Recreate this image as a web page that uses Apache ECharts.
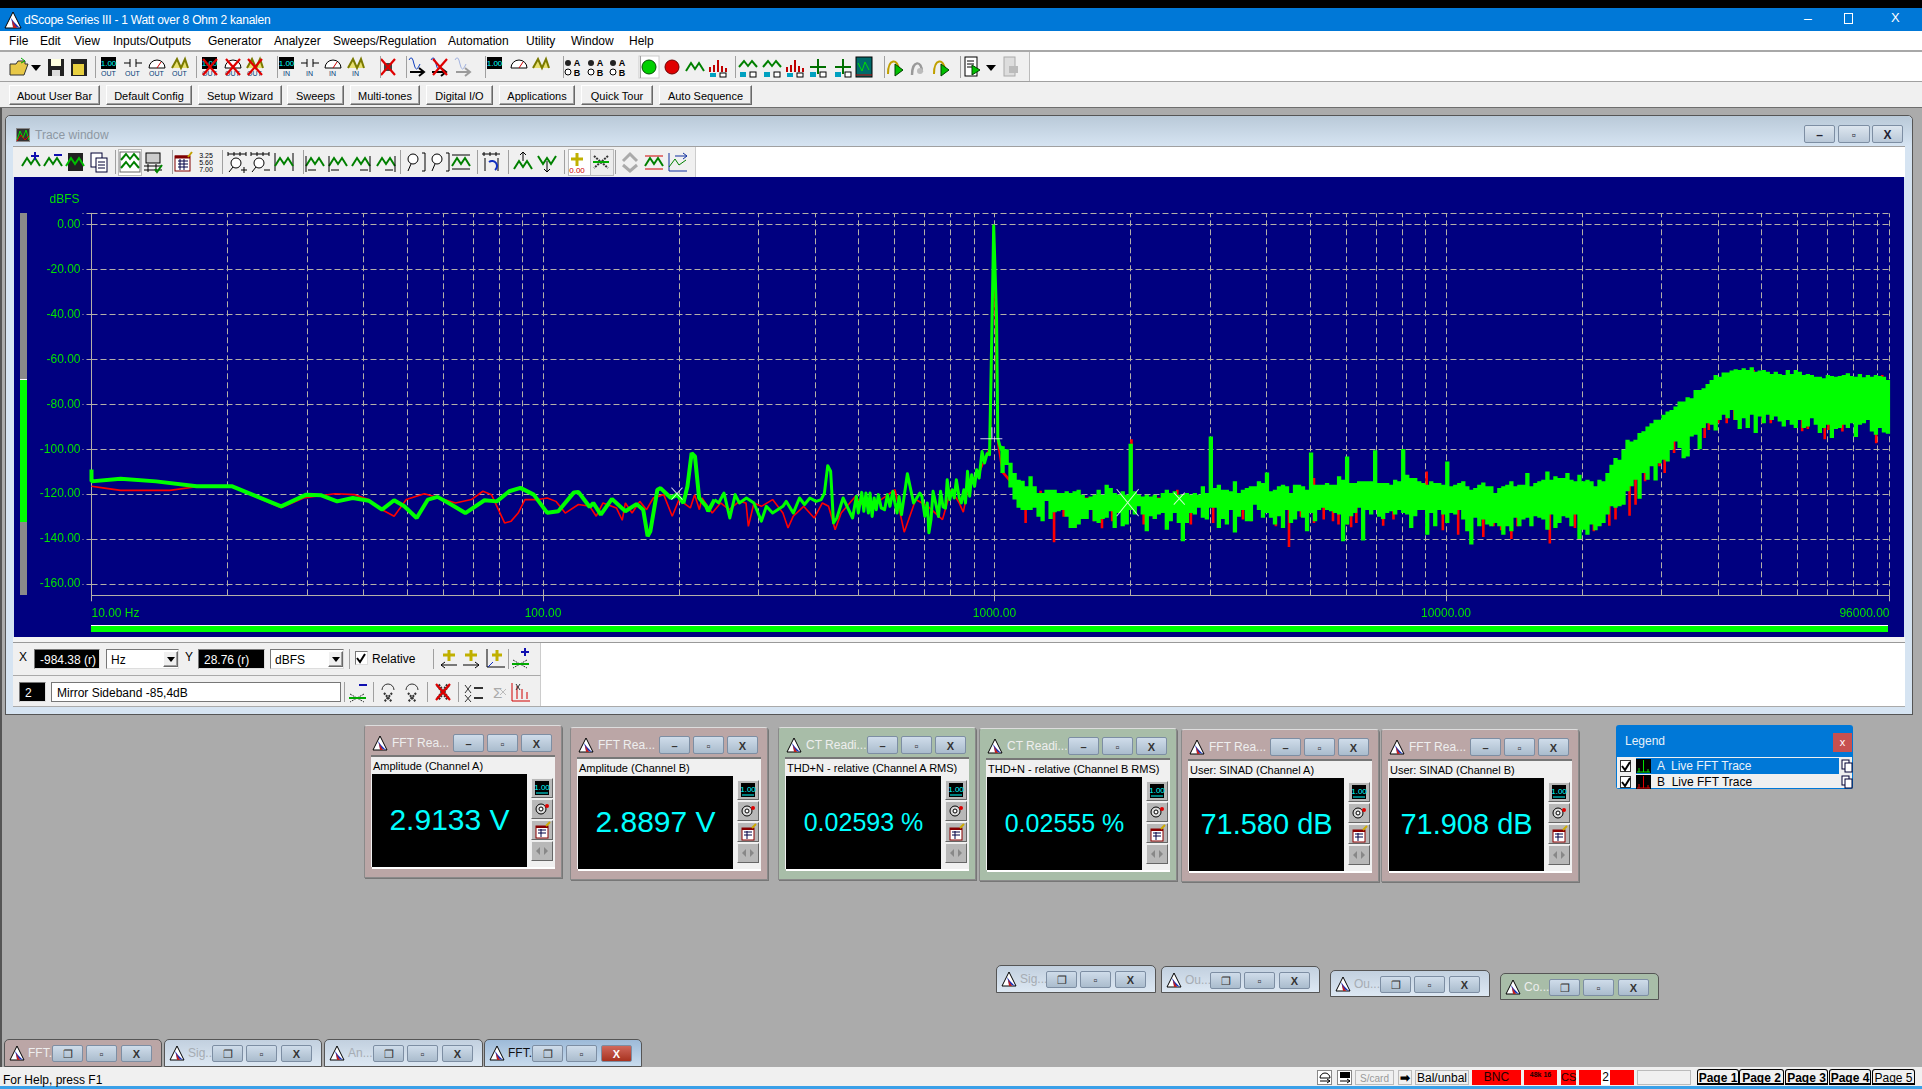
<!DOCTYPE html>
<html><head><meta charset="utf-8"><title>dScope Series III</title>
<script src="https://cdn.jsdelivr.net/npm/echarts@6/dist/echarts.min.js"></script>
<style>
html{background:#ababab}
html,body{margin:0;padding:0;overflow:hidden;width:1922px;height:1089px;font-family:"Liberation Sans",Arial,sans-serif;font-size:12px;color:#000}
.b{position:absolute;box-sizing:border-box;white-space:pre}
#chart{position:absolute;left:14px;top:177px;width:1890px;height:460px;z-index:2}
svg{position:absolute;overflow:visible}
</style></head><body>
<div id="chart"></div>
<script>
// ---------- chart data ----------
const yMajor=[0,-20,-40,-60,-80,-100,-120,-140,-160];
const xMajor=[10,100,1000,10000,96000];
const xGrid=[10,20,30,40,50,60,70,80,90,100,200,300,400,500,600,700,800,900,1000,2000,3000,4000,5000,6000,7000,8000,9000,10000,20000,30000,40000,50000,60000,70000,80000,90000,96000];
const xTickText={10:"10.00 Hz",100:"100.00",1000:"1000.00",10000:"10000.00",96000:"96000.00"};
// channel A, low frequencies
const greenLow=[[10,-109],[10,-114.3],[11.6,-113.1],[13.9,-114.3],[17.1,-116.5],[20.5,-116.5],[26.3,-125.4],[29.9,-120.2],[32.3,-120.5],[35,-123.2],[37.9,-121.7],[41.1,-122.9],[44,-126.9],[46.8,-122.7],[49.3,-125.4],[52.5,-130.6],[55.6,-122.4],[58.4,-121.2],[62.6,-124.6],[67.3,-128.4],[74.2,-122.7],[79,-123.2],[84.2,-118.7],[89.1,-117.2],[95.4,-120.2],[102.2,-128.3],[108.1,-127.6],[117.1,-119.2],[119.8,-119],[126.9,-125.7],[129.2,-123.9],[134.3,-129.1],[142.1,-122.1],[152.2,-127.6],[161.1,-124.4],[166.7,-126.9],[170.5,-138.7],[172.9,-136.5],[179.2,-118],[182.1,-117.3],[192,-121.7],[198.2,-120.2],[204.6,-123.9],[208.9,-116.5],[213.4,-101.7],[217.1,-103.2],[221.7,-121.7],[229.8,-125.4],[232.3,-127.6],[239.8,-122.4]];
// channel A, middle frequencies and the 1 kHz tone
const greenMid=[[239.8,-122.4],[244.9,-123.9],[251.7,-119.5],[259.3,-130.6],[266.5,-120.2],[272.2,-123.9],[282.2,-121.7],[293.2,-123.9],[304.6,-132],[312.4,-125.4],[322.5,-128.4],[339.9,-125.4],[345.7,-123.2],[358.4,-128.4],[369.9,-121.7],[379.5,-124.6],[390,-121.7],[402.6,-123.2],[413,-122.4],[420,-119.5],[427.2,-107.3],[433.6,-109.8],[440,-132.8],[447.5,-130.6],[462,-121.7],[484.9,-130.6],[494.3,-120.9],[499.4,-128.4],[502.8,-129.1],[508.1,-119.2],[513.5,-127.6],[519.1,-119.5],[525.6,-128.4],[530,-119.5],[535.8,-129.9],[541.4,-121.7],[547.2,-126.9],[553,-120.2],[561.1,-126.1],[570.9,-126.9],[579.3,-120.2],[586.7,-125.4],[595.5,-118.7],[601.8,-123.9],[608.2,-128.4],[614.6,-121],[622.4,-129.1],[627.9,-128.4],[641.3,-110.9],[661.9,-123.9],[683.3,-119.5],[690.6,-120.9],[701,-129.8],[709.7,-123.9],[715.7,-137.2],[723.4,-131.3],[731,-118.7],[743.5,-125.4],[751.6,-129.9],[759.4,-118.7],[769.3,-125.7],[779,-126.2],[785.6,-113.6],[795.8,-122.4],[806,-118],[814.4,-121.7],[823.2,-113.6],[835.4,-121.7],[844.3,-123.9],[855.3,-118],[862.5,-123.9],[871.5,-109.8],[881,-120.9],[890.2,-111.3],[903.4,-116.5],[913,-109.1],[924.6,-112.8],[938.5,-101],[950.5,-106.1],[962.7,-102],[975,-102.4],[983,-65],[989.5,-33],[995.8,-0.5],[1004.2,0],[1010.6,-42],[1017,-95],[1032,-100],[1042,-98.7]];
// channel A, noise band columns above 1 kHz
const bandFreq=[1042,1064,1085,1108,1131,1154,1178,1202,1227,1252,
1278,1304,1331,1359,1387,1415,1445,1475,1505,1536,
1568,1600,1633,1667,1701,1736,1772,1809,1846,1884,
1923,1963,2003,2045,2087,2130,2174,2219,2265,2311,
2359,2408,2457,2508,2560,2613,2667,2722,2778,2835,
2894,2953,3014,3077,3140,3205,3271,3339,3408,3478,
3550,3623,3698,3774,3852,3932,4013,4096,4180,4267,
4355,4445,4536,4630,4726,4823,4923,5025,5128,5234,
5342,5452,5565,5680,5797,5917,6039,6164,6291,6421,
6553,6688,6827,6968,7111,7258,7408,7561,7717,7876,
8039,8205,8374,8547,8723,8903,9087,9275,9466,9662,
9861,10065,10272,10484,10701,10922,11147,11377,11612,11852,
12096,12346,12601,12861,13126,13397,13674,13956,14244,14538,
14838,15144,15457,15776,16102,16434,16773,17119,17472,17833,
18201,18577,18960,19352,19751,20159,20575,21000,21433,21875,
22327,22788,23258,23738,24228,24728,25239,25760,26292,26834,
27388,27954,28531,29120,29721,30334,30960,31599,32251,32917,
33596,34290,34998,35720,36457,37210,37978,38762,39562,40378,
41212,42062,42931,43817,44721,45644,46586,47548,48529,49531,
50553,51597,52662,53749,54858,55990,57146,58326,59530,60758,
62012,63292,64599,65932,67293,68682,70100,71547,73024,74531,
76069,77639,79242,80878,82547,84251,85990,87765,89577,91426,93313,95239];
const bandHi=[-98.7,-100,-106,-110.6,-113.6,-114,-116.5,-112,-116.5,-119.5,
-119.5,-118,-118,-118,-119.5,-119.5,-118.7,-119.5,-118.7,-118,
-120.2,-121.7,-121,-120.2,-118,-120.2,-115.8,-117.3,-119.5,-120.2,
-118.7,-120.2,-97.6,-118.7,-120.2,-121,-120.2,-121,-120.2,-121.7,
-119.5,-118,-119.5,-118.7,-120.2,-120.2,-119.5,-120.2,-119.5,-120.2,
-116.5,-119.5,-94.3,-117.3,-115.8,-118,-118,-118.7,-114.3,-119.5,
-118,-117.3,-116.5,-116.5,-114.3,-115,-110.3,-118.7,-118,-116.5,
-115.8,-116.5,-119.5,-115.8,-115.8,-116.5,-118,-101.4,-115.8,-115.8,
-115.8,-115,-115.8,-115.8,-112,-113.6,-103.2,-115,-115,-114.3,
-114.3,-114.3,-114.3,-100.5,-115,-115,-115,-115.8,-113.6,-114.3,
-99.9,-111.3,-112.8,-112.8,-114.3,-115,-115.8,-114.3,-115,-115,
-115.8,-105.4,-116.5,-115.8,-115,-114.3,-116.5,-118,-117.3,-115.8,
-114.8,-116.5,-116.5,-119.5,-117.3,-116.5,-115.8,-114.3,-116.5,-115.8,
-115.8,-110.6,-116.5,-115,-114.3,-113.6,-109.9,-113.6,-112,-112.8,
-112.8,-110.6,-113.6,-114.3,-111.3,-114.3,-113.6,-114.3,-116.5,-113.6,
-114.3,-110.6,-106.9,-103.9,-104.7,-100.2,-95.8,-96.5,-95.8,-92.8,
-92,-89.9,-88.4,-86.9,-86.9,-84.7,-83.2,-82.5,-81,-78.8,
-78.8,-76.9,-77.3,-73.6,-73.6,-72.9,-71,-69.2,-67,-67.7,
-65.9,-65.9,-65,-64.4,-64.7,-64,-64.7,-63.5,-65.5,-65,
-64.7,-65.5,-66.5,-65.5,-66.5,-67,-64.7,-66.5,-64.7,-65.5,
-67,-66.5,-67,-67.7,-67.7,-68.4,-67,-67.4,-67.7,-67.4,
-67,-66.2,-67.4,-67.7,-66.5,-68,-67,-67.7,-67,-67.4,-67.7,-69.2];
const bandLo=[-110.6,-107,-117,-122.4,-126,-127,-127,-127,-126,-130,
-132,-123,-131,-128,-127.6,-127,-130,-135,-135,-133.5,
-131,-131,-127,-132,-132.8,-131,-130.5,-127.6,-135,-128.4,
-134.3,-133.5,-127,-129,-125.4,-129,-136.5,-129.8,-131,-129,
-128.4,-135.8,-132,-128.4,-132.8,-141,-132.8,-128.4,-129,-126,
-130.5,-131.3,-126,-126,-135,-131,-133.5,-127,-137,-130,
-127,-132,-132,-124.7,-127,-130.5,-128.4,-130.5,-133.5,-129.8,
-135,-127,-132.8,-131.3,-127.6,-130.5,-136.5,-128.4,-132,-127,
-126,-127,-127.6,-128.4,-129,-141,-133.5,-129.8,-128.4,-126,
-140.6,-127,-129,-127,-130,-131,-128.4,-127.6,-129,-127,
-128.4,-129,-135,-129.8,-127,-127,-138,-128.4,-134.3,-127,
-129,-132.8,-128.4,-129,-127,-131.3,-136.5,-142.4,-130.5,-134.3,
-131.3,-133.5,-134.3,-132.8,-134.3,-138,-134.3,-136.5,-130.5,-134.3,
-131.3,-130.5,-134.3,-129.8,-130.5,-131.3,-135.8,-129,-135,-132.8,
-129.8,-130.5,-134.3,-129,-140,-135.8,-138,-133.5,-136,-134.3,
-132.8,-129,-125.4,-126,-125.4,-124.7,-118.7,-116.5,-113.6,-122,
-110.6,-113.6,-107.6,-113.9,-106.2,-104.7,-105.4,-100.2,-96.5,-99.5,
-104,-103.2,-94.3,-93.6,-100,-90.6,-88.4,-89.1,-91.7,-87,
-84.7,-86.2,-82.5,-87,-91,-86.2,-90.6,-84.7,-92.8,-85.4,
-88.4,-84.7,-87,-85.4,-87.7,-89.9,-87,-89.1,-90.6,-87,
-90.6,-89.9,-86.2,-89.1,-92.8,-90.6,-89.1,-95,-91,-90.6,
-89.1,-90.6,-88.4,-94.6,-89.1,-88.4,-87,-92.1,-93.6,-90.6,-92.5,-93.1];
// channel B, line part
const redLine=[[10,-116.5],[10.6,-117.2],[11.6,-118.3],[14.9,-118.3],[17.1,-116.7],[20.5,-116.7],[26.3,-126],[29.5,-121.7],[34.6,-119.8],[38.3,-120.2],[41.1,-122.4],[44,-126.9],[46.8,-129.8],[49.8,-122.4],[54.6,-119.8],[59,-121.7],[64,-123.9],[69.4,-122.4],[73.6,-118.7],[76.9,-120.2],[82.2,-132.8],[85,-132],[88.1,-128.4],[91.2,-122.4],[97.7,-122.4],[102.2,-121.7],[106.8,-123.2],[112,-128.4],[119.8,-124.6],[126.9,-125.4],[131.2,-129.8],[135.8,-123.9],[145.4,-126.1],[149.8,-131.6],[152.2,-123.9],[157.5,-128.4],[163.8,-123.2],[169.6,-126.9],[175.5,-121.7],[185.1,-120.2],[193.3,-129.8],[200.1,-122.4],[212,-126.1],[216.7,-120.2],[222,-126.9],[225,-121.7],[237,-128.4],[247.4,-123.9],[258.2,-126.9],[272.2,-123.2],[281.6,-123.9],[285,-134.3],[293.2,-123.9],[304.6,-125.4],[322.5,-122.4],[339.9,-128.4],[348.9,-135],[358.4,-129.8],[377.8,-125.4],[398.7,-130.6],[415.7,-123.9],[429,-125.4],[443.6,-135.8],[457.5,-128.4],[492.3,-120.9],[513,-125.4],[548,-123.9],[602,-118],[631,-136.9],[669,-122.4],[712,-125.4],[767,-131.3],[801,-118],[835,-123.9],[853,-128],[881,-113.6],[919,-112],[958,-103.2],[979,-98.7],[995.8,-5.5],[1004.2,-5.5],[1017,-97.3],[1040,-110]];
// channel B spikes that show outside the green band
const redSpikeFreq=[1172,1265,1355,1423,1512,1660,1730,1823,2011,2140,2255,2408,2540,2722,3050,3285,3550,3698,4200,4490,4770,5100,5100,5360,5620,5780,6050,6164,6330,6421,7258,7650,9060,9840,10640,12096,12740,13250,13956,14400,16980,19300,21250,23000,23738,25500,26292,27600,29721,30000,30500,32000,32917,33800,34998,37400,38200,40100,41850,43500,46800,48000,50300,52400,61500,63292,69000,70300,75500,89700,92500];
const redSpikeDb=[-132.8,-118.5,-141.4,-130,-135,-132,-135.2,-132,-95.5,-133.5,-131,-132.8,-118,-133.5,-132.8,-131.6,-131.3,-132,-134.3,-143.5,-130,-132.8,-112.8,-131.3,-132,-133.5,-133.5,-134.7,-132.8,-115,-134,-131.3,-109.9,-136,-138,-139,-134.3,-136,-139.9,-134.3,-142,-135,-136.5,-134,-131.3,-129.6,-124.7,-114.3,-107.6,-104,-110.6,-101.7,-97.3,-102.5,-92.1,-95,-91.4,-88.4,-88.4,-87,-90.6,-64.7,-88.4,-88.4,-92,-91,-95.5,-91.4,-92.1,-97.3,-67];
const redSpikeMid=[-122,-122,-122,-122,-122,-122,-122,-122,-122,-122,-122,-122,-122,-122,-122,-122,-122,-122,-122,-122,-122,-122,-122,-122,-122,-122,-122,-122,-122,-122,-122,-122,-122,-122,-122,-122,-122,-122,-122,-122,-122,-122,-122,-120,-118,-112,-110,-100,-96,-96,-96,-92,-90,-85,-80,-78,-78,-75,-75,-75,-75,-75,-75,-75,-75,-75,-75,-75,-75,-75,-75];
// white cursors: small x, large x, small x, tone cursor
const cursorSmall=[[198,-119.8],[2566,-122]];
const cursorLarge=[[1972,-123.8]];
const cursorTone=[[984,-92.9]];

// ---------- chart ----------
const GREEN='#00ff00',RED='#ff0000',GRID='#b4b0a8';
const band=[];
bandFreq.forEach((f,i)=>{band.push([f,bandHi[i]],[f,bandLo[i]],[f,null]);});
const redSpikes=[redLine[redLine.length-1]];
redSpikeFreq.forEach((f,i)=>{redSpikes.push([f,redSpikeMid[i]],[f,redSpikeDb[i]],[f,redSpikeMid[i]]);});
const lineBase={type:'line',showSymbol:false,symbol:'none',animation:false,silent:true,sampling:false,clip:true};
const chart=echarts.init(document.getElementById('chart'),null,{renderer:'canvas',width:1890,height:460});
chart.setOption({
  animation:false,backgroundColor:'#000080',
  textStyle:{fontFamily:'"Liberation Sans",Arial,sans-serif'},
  grid:{left:77.5,top:36.3,width:1798,height:382,containLabel:false},
  xAxis:{type:'log',logBase:10,min:10,max:96000,
    axisLine:{onZero:false,lineStyle:{color:GRID,width:1}},
    axisTick:{customValues:xMajor,length:6,lineStyle:{color:GRID}},
    splitLine:{show:false},minorTick:{show:false},
    axisLabel:{customValues:xMajor,color:'#00e400',fontSize:12,margin:12,alignMinLabel:'left',alignMaxLabel:'right',
      formatter:v=>xTickText[Math.round(v)]||String(v)}},
  yAxis:{type:'value',min:-165,max:5,name:'dBFS',nameLocation:'end',nameGap:8,
    nameTextStyle:{color:'#00e400',fontSize:12,align:'right',padding:[0,12,0,0]},
    axisLine:{show:true,lineStyle:{color:GRID,width:1}},
    axisTick:{customValues:yMajor.concat([5]),length:9,lineStyle:{color:GRID,type:[5,3]}},
    splitLine:{show:true,lineStyle:{color:GRID,width:1,type:[6,3]}},
    axisLabel:{customValues:yMajor,color:'#00e400',fontSize:12,margin:11,formatter:v=>v.toFixed(2)}},
  series:[
    Object.assign({},lineBase,{name:'gridlines',data:[],z:1,markLine:{silent:true,symbol:'none',z:1,animation:false,label:{show:false},
      lineStyle:{color:GRID,width:1,type:[6,3]},data:xGrid.map(f=>({xAxis:f}))}}),
    Object.assign({},lineBase,{name:'B Live FFT Trace',data:redLine,z:3,lineStyle:{color:RED,width:1.6}}),
    Object.assign({},lineBase,{name:'B spikes',data:redSpikes,z:3,lineStyle:{color:RED,width:2.6,join:'miter',cap:'butt'}}),
    Object.assign({},lineBase,{name:'A Live FFT Trace',data:greenLow,z:4,lineStyle:{color:GREEN,width:4}}),
    Object.assign({},lineBase,{name:'A mid',data:greenMid,z:4,lineStyle:{color:GREEN,width:3,join:'round'}}),
    Object.assign({},lineBase,{name:'A band',data:band,z:4,connectNulls:false,lineStyle:{color:GREEN,width:4.3,join:'miter',cap:'butt'}}),
    {type:'scatter',name:'cursor',data:cursorSmall,z:6,silent:true,animation:false,symbol:'path://M0,0L10,10M10,0L0,10',symbolSize:[11,12],itemStyle:{color:'none',borderColor:'#fff',borderWidth:1}},
    {type:'scatter',name:'cursor2',data:cursorLarge,z:6,silent:true,animation:false,symbol:'path://M0,0L10,10M10,0L0,10',symbolSize:[22,27],itemStyle:{color:'none',borderColor:'#fff',borderWidth:1}},
    {type:'scatter',name:'cursor3',data:cursorTone,z:6,silent:true,animation:false,symbol:'path://M0,10L20,10L20,11L0,11ZM10,0L11,0L11,10L10,10Z',symbolSize:[22,12],itemStyle:{color:'#ffffff'}}
  ]
});

// ---------- application window around the chart ----------
const root=document.body;
function box(x,y,w,h,css,text){const d=document.createElement('div');d.className='b';
  d.style.cssText=`left:${x}px;top:${y}px;width:${w}px;height:${h}px;${css||''}`;
  if(text!==undefined){d.textContent=text;if(!/line-height/.test(css||''))d.style.lineHeight=h+'px';}
  root.appendChild(d);return d;}
function txt(x,y,t,css){return box(x,y-8,0,16,'overflow:visible;'+(css||''),t);}
function raised(x,y,w,h,css,t){return box(x,y,w,h,'background:#f0f0f0;border:1px solid;border-color:#fff #696969 #696969 #fff;box-shadow:inset -1px -1px 0 #a0a0a0;text-align:center;font-size:11px;'+(css||''),t);}
function svg(x,y,inner,w,h){w=w||22;h=h||22;const s=document.createElementNS('http://www.w3.org/2000/svg','svg');
  s.setAttribute('width',w);s.setAttribute('height',h);s.setAttribute('viewBox',`0 0 ${w} ${h}`);
  s.style.left=(x-w/2)+'px';s.style.top=(y-h/2)+'px';s.innerHTML=inner;root.appendChild(s);}
const wave=(c)=>`<polyline points="2,15 7,7 11,13 15,7 20,15" fill="none" stroke="${c||'#008000'}" stroke-width="2"/>`;
const redx=`<path d="M4,3L18,19M18,3L4,19" stroke="#e00000" stroke-width="2.2" fill="none"/>`;
const lab=(t)=>`<text x="10.5" y="20" font-size="7" text-anchor="middle" fill="#003c78" font-family="Liberation Sans">${t}</text>`;
const I={
 wave:wave(),
 redx:`<rect x="7" y="7" width="8" height="8" fill="#444"/>`+redx,
 ab:`<circle cx="6" cy="7" r="3" fill="#222"/><circle cx="6" cy="16" r="3" fill="#fff" stroke="#000"/><text x="15" y="10" font-size="9" font-weight="bold" text-anchor="middle" font-family="Liberation Sans">A</text><text x="15" y="20" font-size="9" font-weight="bold" text-anchor="middle" font-family="Liberation Sans">B</text>`,
 sig:`<path d="M2,4Q5,-2 7,8T13,8" fill="none" stroke="#1040c0"/><path d="M3,16H16M12,12L17,16L12,20" stroke="#000" stroke-width="2" fill="none"/>`,
 gdot:`<rect x="1" y="0" width="20" height="22" fill="#fff" stroke="#ccc"/><circle cx="11" cy="11" r="7" fill="#00d000" stroke="#005000"/>`,
 rdot:`<circle cx="11" cy="11" r="7" fill="#e00000" stroke="#700000"/>`,
 wb:`<polyline points="2,11 7,5 11,10 15,5 20,11" fill="none" stroke="#008000" stroke-width="2"/><rect x="3" y="16" width="6" height="5" fill="#00a0c0"/><rect x="13" y="16" width="6" height="5" fill="#fff" stroke="#000"/>`,
 bars:`<path d="M3,16V11M7,16V9M11,16V4M15,16V10M19,16V12" stroke="#c00000" stroke-width="2"/><rect x="3" y="17" width="6" height="4" fill="#00a0c0"/><rect x="13" y="17" width="6" height="4" fill="#fff" stroke="#000"/>`,
 peak:`<path d="M3,11H19M11,3V18" stroke="#007000" stroke-width="2"/><rect x="3" y="16" width="6" height="5" fill="#00a0c0"/><rect x="13" y="16" width="6" height="5" fill="#fff" stroke="#000"/>`,
 book:`<rect x="3" y="1" width="16" height="20" fill="#006a6a" stroke="#000"/><polyline points="5,7 9,15 12,6 16,14" fill="none" stroke="#00e000"/><path d="M3,19H19" stroke="#c00"/>`,
 play:`<path d="M4,18C4,2 14,2 15,14" fill="none" stroke="#c0a000" stroke-width="2"/><path d="M11,8L19,14L11,20Z" fill="#00c000" stroke="#004000"/>`,
 graym:`<path d="M5,19C5,4 15,4 15,16" fill="none" stroke="#999" stroke-width="2.4"/><circle cx="13" cy="15" r="3" fill="#bbb"/>`,
 doc:`<rect x="4" y="1" width="12" height="19" fill="#fff" stroke="#000"/><path d="M6,5H13M6,8H13M6,11H13" stroke="#000"/><path d="M11,9L19,14L11,19Z" fill="#00c000" stroke="#004000"/>`,
 docg:`<rect x="5" y="1" width="11" height="19" fill="#ddd" stroke="#aaa"/><rect x="10" y="10" width="9" height="7" fill="#bbb"/>`,
 folder:`<path d="M2,8H8L10,5H17V8L20,8L16,19H2Z" fill="#e8c848" stroke="#333"/><path d="M13,2L17,5L13,7" stroke="#0a0" fill="none"/>`,
 save:`<rect x="3" y="3" width="16" height="17" fill="#222"/><rect x="6" y="3" width="10" height="7" fill="#ffffe0"/><rect x="7" y="14" width="8" height="6" fill="#ddd"/>`,
 save2:`<rect x="3" y="3" width="16" height="17" fill="#222"/><path d="M5,8H16V19H5Z" fill="#e8d040"/>`,
 arr:`<path d="M5,9H15L10,15Z" fill="#000"/>`,
 wplus:wave()+`<path d="M15,1V9M11,5H19" stroke="#1010b0" stroke-width="2"/>`,
 wminus:wave()+`<path d="M12,4H20" stroke="#1010b0" stroke-width="2"/>`,
 wsave:`<rect x="4" y="2" width="15" height="18" fill="#222"/>`+wave('#00c000'),
 copy:`<rect x="3" y="2" width="11" height="14" fill="#fff" stroke="#003"/><rect x="8" y="7" width="11" height="14" fill="#fff" stroke="#003"/><path d="M10,11H17M10,14H17M10,17H17" stroke="#003"/>`,
 grid:`<rect x="1" y="1" width="20" height="20" fill="#fff" stroke="#666"/><polyline points="2,9 7,3 11,8 15,3 20,9" fill="none" stroke="#008000" stroke-width="2"/><polyline points="2,17 7,11 11,16 15,11 20,17" fill="none" stroke="#008000" stroke-width="2"/>`,
 sheet:`<rect x="4" y="2" width="14" height="10" fill="#ccc" stroke="#000"/><path d="M2,15H20M2,19H20M6,13V21M14,13V21" stroke="#000"/><path d="M13,18L15,21L20,14" stroke="#080" fill="none" stroke-width="2"/>`,
 cal:`<rect x="3" y="5" width="15" height="15" fill="#fff" stroke="#800000"/><path d="M3,6H18" stroke="#800000" stroke-width="3"/><path d="M6,10H16M6,13H16M6,16H16M8,8V19M12,8V19" stroke="#004"/><path d="M16,6L20,1" stroke="#c0a000" stroke-width="2"/>`,
 nums:`<text x="11" y="7" font-size="7" text-anchor="middle" font-family="Liberation Sans">3.25</text><text x="11" y="14" font-size="7" text-anchor="middle" font-family="Liberation Sans">5.60</text><text x="11" y="21" font-size="7" text-anchor="middle" font-family="Liberation Sans">7.00</text>`,
 zoomin:`<path d="M2,3H20M2,1V5M8,1V5M14,1V5M20,1V5" stroke="#000"/><circle cx="10" cy="12" r="5" fill="#fff" stroke="#000"/><path d="M7,16L3,21M15,19H21M18,16V22" stroke="#000"/>`,
 zoomout:`<path d="M2,3H20M2,1V5M8,1V5M14,1V5M20,1V5" stroke="#000"/><circle cx="10" cy="12" r="5" fill="#fff" stroke="#000"/><path d="M7,16L3,21M15,19H21" stroke="#000"/>`,
 span:`<path d="M2,2V20M20,2V20" stroke="#000"/>`+wave(),
 wl:wave()+`<path d="M2,5V21M4,19H12" stroke="#000"/>`,
 wr:wave()+`<path d="M20,5V21M10,19H18" stroke="#000"/>`,
 mag:`<circle cx="9" cy="8" r="5" fill="#fff" stroke="#000"/><path d="M7,13L4,20M18,2H21V20H18" stroke="#000" fill="none"/>`,
 hline:`<path d="M2,4H20M2,18H20" stroke="#000"/>`+wave(),
 undo:`<path d="M2,3H20M4,1V5M10,1V5M16,1V5" stroke="#000"/><path d="M5,7V20M18,7V20" stroke="#000"/><path d="M15,19A5,5 0 1 0 9,11" stroke="#1030c0" stroke-width="2" fill="none"/>`,
 up:`<polyline points="2,18 7,10 11,16 15,10 20,18" fill="none" stroke="#008000" stroke-width="2"/><path d="M11,1V10M8,4L11,1L14,4" stroke="#000" fill="none"/>`,
 dn:`<polyline points="2,5 7,13 11,7 15,13 20,5" fill="none" stroke="#008000" stroke-width="2"/><path d="M11,10V21M8,18L11,21L14,18" stroke="#000" fill="none"/>`,
 plus:`<path d="M11,2V15M5,8H17" stroke="#c0b000" stroke-width="3"/><text x="11" y="22" font-size="8" text-anchor="middle" fill="#d00000" font-family="Liberation Sans">0.00</text>`,
 xs:`<path d="M4,5L18,17M18,5L4,17" stroke="#333" stroke-width="2" stroke-dasharray="2 1"/><path d="M3,11H19" stroke="#0a0" stroke-width="2"/>`,
 gray2:`<path d="M4,10L11,3L18,10M4,14L11,20L18,14" stroke="#aaa" stroke-width="3" fill="none"/>`,
 redw:`<path d="M2,5H20M2,18H20" stroke="#d00000"/>`+wave(),
 trace:`<path d="M3,2V20H21" stroke="#1030a0" fill="none"/><polyline points="3,16 9,8 13,14 20,9" stroke="#008000" fill="none"/><path d="M9,5H21M17,2L21,5L17,8" stroke="#1030a0" fill="none"/>`,
 mark:`<path d="M2,4L8,12M8,4L2,12M2,14L8,21M8,14L2,21" stroke="#333"/><path d="M11,7H20M11,17H20" stroke="#333" stroke-width="2"/>`,
 sum:`<text x="7" y="17" font-size="15" fill="#aaa" font-family="Liberation Sans">Σ</text><path d="M14,8L20,14M20,8L14,14" stroke="#bbb"/>`,
 mkr:`<path d="M3,2V20H21" stroke="#d00000" fill="none"/><path d="M8,5V18M13,8V18M18,11V18" stroke="#d00000"/><path d="M7,3L11,9M11,3L7,9" stroke="#333"/>`,
 xbig:`<path d="M6,4L16,18M16,4L6,18" stroke="#333" stroke-width="4" stroke-dasharray="2 1"/>`+redx,
 rot:`<path d="M5,9A6,6 0 0 1 17,9" stroke="#333" fill="none"/><path d="M7,12L15,21M15,12L7,21" stroke="#333" stroke-width="2" stroke-dasharray="2 1"/>`,
 yplus:`<path d="M11,3V14M5,8H17" stroke="#c0b000" stroke-width="3"/><path d="M3,18H19M3,18L7,15M3,18L7,21" stroke="#000" fill="none"/>`,
 xplus:`<path d="M11,3V14M5,8H17" stroke="#c0b000" stroke-width="3"/><path d="M3,18H19M19,18L15,15M19,18L15,21" stroke="#000" fill="none"/>`,
 xyplus:`<path d="M3,2V20H21" stroke="#000" fill="none"/><path d="M13,3V14M8,8H18" stroke="#c0b000" stroke-width="3"/><path d="M9,15L4,20" stroke="#1030c0"/>`,
 mplus:`<path d="M15,1V9M11,5H19" stroke="#1010b0" stroke-width="2"/><path d="M3,13L17,21M17,13L3,21" stroke="#333" stroke-dasharray="2 1"/><path d="M2,17H19" stroke="#0a0" stroke-width="2"/>`,
 mminus:`<path d="M12,4H20" stroke="#1010b0" stroke-width="2"/><path d="M3,13L17,21M17,13L3,21" stroke="#333" stroke-dasharray="2 1"/><path d="M2,17H19" stroke="#0a0" stroke-width="2"/>`
};
const numI=(t)=>`<rect x="3" y="1" width="15" height="12" fill="#000"/><text x="10.5" y="10" font-size="8" text-anchor="middle" fill="#00ffff" font-family="Liberation Sans">1.00</text>`+lab(t);
const swI=(t)=>`<path d="M2,7H8M14,7H20M8,3V11M14,3V11" stroke="#000" fill="none"/>`+lab(t);
const gaugeI=(t)=>`<path d="M3,12A8,8 0 0 1 19,12Z" fill="#fff" stroke="#000"/><path d="M11,12L15,6" stroke="#c00"/>`+lab(t);
const multiI=(t)=>`<path d="M3,12L8,3L12,12L16,3L19,12" stroke="#7a7a00" stroke-width="2" fill="#e8e070"/>`+lab(t);
const vsep=(x,y,h)=>box(x,y,1,h,'background:#a0a0a0');

// frame bands
box(0,0,1922,8,'background:#000');
box(0,8,1922,23,'background:#0078d7');
box(0,31,1922,19,'background:#fff');
box(0,50,1922,2,'background:#a8a8a8');
box(0,52,1030,29,'background:#f0f0f0;border-right:1px solid #bbb');
box(1030,52,892,29,'background:#fff');
box(0,81,1922,1,'background:#a0a0a0');
box(0,82,1922,25,'background:#f0f0f0');
box(0,107,1922,1,'background:#6e6e6e');
box(0,108,2,960,'background:#555');

svg(13,20,`<path d="M9,1L17,17H1Z" fill="#fff" stroke="#000"/><path d="M7,7L10,11L16,17L9,15Z" fill="#1030c0"/><path d="M8,9L13,17H9Z" fill="#c02020"/>`,18,18);
txt(24,20,'dScope Series III - 1 Watt over 8 Ohm 2 kanalen','color:#fff;letter-spacing:-.24px');
txt(1804,18,'–','color:#fff;font-size:14px');
box(1844,13,9,11,'border:1px solid #fff');
txt(1891,18,'X','color:#fff;font-size:13px;font-weight:normal');
[[9,'File'],[40,'Edit'],[74,'View'],[113,'Inputs/Outputs'],[208,'Generator'],[274,'Analyzer'],[333,'Sweeps/Regulation'],[448,'Automation'],[526,'Utility'],[571,'Window'],[629,'Help']].forEach(m=>txt(m[0],41,m[1]));

// main toolbar
[[19,I.folder],[37,I.arr],[56,I.save],[79,I.save2],[109,numI('OUT')],[133,swI('OUT')],[157,gaugeI('OUT')],[180,multiI('OUT')],[210,numI('OUT')+redx],[233,gaugeI('OUT')+redx],[255,multiI('OUT')+redx],[287,numI('IN')],[310,swI('IN')],[333,gaugeI('IN')],[356,multiI('IN')],[388,I.redx],[418,I.sig],[440,I.sig+redx],[464,`<g opacity=".35">${I.sig}</g>`],[495,numI('')],[519,gaugeI('')],[541,multiI('')],[573,I.ab],[596,I.ab],[618,I.ab],[649,I.gdot],[672,I.rdot],[695,I.wave],[718,I.bars],[748,I.wb],[772,I.wb],[795,I.bars],[818,I.peak],[843,I.peak],[864,I.book],[895,I.play],[918,I.graym],[941,I.play],[972,I.doc],[992,I.arr],[1010,I.docg]].forEach(t=>svg(t[0],67,t[1]));
[95,196,277,380,406,485,563,640,735,884,960].forEach(x=>vsep(x,56,22));

// button row
[[9,91,'About User Bar'],[106,86,'Default Config'],[198,84,'Setup Wizard'],[287,57,'Sweeps'],[350,70,'Multi-tones'],[426,67,'Digital I/O'],[499,76,'Applications'],[581,72,'Quick Tour'],[659,93,'Auto Sequence']].forEach(b=>raised(b[0],85,b[1],20,'',b[2]));

// trace window frame
box(5,115,1908,600,'background:#d6e4f2;border:1px solid #555;border-radius:5px 5px 0 0');
box(6,116,1906,30,'background:linear-gradient(#b9c9d8,#d6e4f2);border-radius:5px 5px 0 0');
box(13,146,1892,1,'background:#a0a0a0');
box(13,147,1892,30,'background:#fff');
box(13,147,683,30,'background:#f0f0f0;border-right:1px solid #ccc');
box(16,128,14,14,'background:#333;border:1px solid #888');
svg(23,135,`<polyline points="1,12 4,3 7,10 10,2 13,12" fill="none" stroke="#0d0"/><polyline points="1,13 5,7 9,12 13,8" fill="none" stroke="#d00"/>`,14,14);
txt(35,135,'Trace window','color:#8d98a3');
[[1804,31,'–'],[1838,32,'▫'],[1872,31,'X']].forEach(b=>box(b[0],125,b[1],18,'background:linear-gradient(#dde6ef,#b9c8d8);border:1px solid #7d8ea3;border-radius:2px;text-align:center;color:#223;font-weight:bold',b[2]));
box(119,150,22,25,'background:#fff;outline:1px solid #bbb');
box(569,150,22,25,'background:#fff;outline:1px solid #bbb');
box(591,150,22,25,'background:#ececec;outline:1px solid #bbb');
[[31,'wplus'],[53,'wminus'],[75,'wsave'],[99,'copy'],[130,'grid'],[153,'sheet'],[183,'cal'],[206,'nums'],[237,'zoomin'],[260,'zoomout'],[284,'span'],[315,'wl'],[338,'wl'],[361,'wr'],[386,'wr'],[415,'mag'],[439,'mag'],[461,'hline'],[491,'undo'],[523,'up'],[547,'dn'],[577,'plus'],[601,'xs'],[630,'gray2'],[654,'redw'],[677,'trace']].forEach(t=>svg(t[0],162,I[t[1]]));
[115,172,222,303,400,477,508,564,615].forEach(x=>vsep(x,150,24));

// level meter and span bar on the navy panel
box(20,213,7,382,'background:#8a8a8a;z-index:3');
box(20,379,7,143,'background:#00ff00;border-top:1px solid #fff;z-index:4');
box(91,625,1797,7,'background:#00ff00;border-top:1px solid #fff;z-index:3');

// cursor panel
box(13,637,1892,70,'background:#fff');
box(13,637,1892,6,'background:#f4f4f4;border-bottom:1px solid #999');
box(13,643,528,32,'background:#f0f0f0;border-right:1px solid #ccc');
box(13,675,528,31,'background:#f0f0f0;border-top:1px solid #aaa;border-right:1px solid #ccc');
box(13,706,1892,1,'background:#aaa');
const sunk='border:1px solid;border-color:#777 #ddd #ddd #777;';
const blk=(x,y,w,h,t)=>box(x,y,w,h,'background:#000;color:#fff;padding-left:5px;'+sunk,t);
const sel=(x,w,t)=>{box(x,649,w,20,'background:#fff;padding-left:4px;'+sunk,t);raised(x+w-16,651,15,16,'');svg(x+w-8,659,`<path d="M1,1H9L5,6Z"/>`,10,7);};
txt(19,657,'X');blk(34,649,66,20,'-984.38 (r)');sel(106,73,'Hz');
txt(185,657,'Y');blk(198,649,67,20,'28.76 (r)');sel(270,74,'dBFS');
box(355,651,13,14,'background:#fff;'+sunk);svg(361,658,`<path d="M1,5L4,9L9,1" fill="none" stroke="#000" stroke-width="2"/>`,10,10);
txt(372,659,'Relative');
vsep(349,649,20);vsep(433,649,20);vsep(508,649,20);
[[449,'yplus'],[471,'xplus'],[495,'xyplus'],[521,'mplus']].forEach(t=>svg(t[0],658,I[t[1]]));
blk(19,682,27,20,'2');
box(51,682,290,20,'background:#fff;padding-left:5px;border:1px solid #777','Mirror Sideband -85,4dB');
vsep(344,682,20);vsep(373,682,20);vsep(427,682,20);vsep(458,682,20);
[[358,'mminus'],[388,'rot'],[412,'rot'],[443,'xbig'],[474,'mark'],[497,'sum'],[520,'mkr']].forEach(t=>svg(t[0],692,I[t[1]]));
box(5,707,1908,8,'background:#d6e4f2;border:1px solid #555;border-top:none');

// readout windows
const triangle=`<path d="M8,1L15,15H1Z" fill="#fff" stroke="#000"/><path d="M6,6L9,10L14,15L8,13Z" fill="#1030c0"/><path d="M7,8L11,15H8Z" fill="#c02020"/>`;
function ctl(x,y,w,h,t,css){box(x,y,w,h,'background:linear-gradient(#cfdcea,#aabccd);border:1px solid #7d8ea3;border-radius:2px;text-align:center;color:#333;font-weight:bold;font-size:11px;'+(css||''),t);}
const readoutTitle=['FFT Rea...','FFT Rea...','CT Readi...','CT Readi...','FFT Rea...','FFT Rea...'];
const readoutLabel=['Amplitude (Channel A)','Amplitude (Channel B)','THD+N - relative (Channel A RMS)','THD+N - relative (Channel B RMS)','User: SINAD (Channel A)','User: SINAD (Channel B)'];
const readoutValue=['2.9133 V','2.8897 V','0.02593 %','0.02555 %','71.580 dB','71.908 dB'];
const readoutSize=[30,30,25,25,29,29];
const readoutX=[364,570,778,979,1181,1381];
const readoutY=[725,727,727,728,729,729];
readoutX.forEach((x,i)=>{const y=readoutY[i],frame=(i==2||i==3)?'#a8bda8':'#bba6a6';
  box(x,y,198,153,`background:${frame};border:1px solid #8a8a8a;border-top-color:#ddd;border-radius:3px 3px 0 0;box-shadow:1px 1px 0 #777`);
  svg(x+16,y+18,triangle,16,16);
  txt(x+28,y+18,readoutTitle[i],'color:#eee');
  ctl(x+89,y+9,31,18,'–');ctl(x+123,y+9,31,18,'▫');ctl(x+157,y+9,31,18,'X');
  box(x+7,y+30,184,2,'background:#777');
  box(x+7,y+32,184,110,'background:#f0f0f0');
  box(x+9,y+33,175,16,'font-size:11px',readoutLabel[i]);
  box(x+8,y+49,155,93,`background:#000;color:#00ffff;text-align:center;font-size:${readoutSize[i]}px;line-height:92px`,readoutValue[i]);
  box(x+8,y+142,183,2,'background:#fff');
  [0,21,42,63].forEach((dy,k)=>{box(x+167,y+53+dy,22,20,'background:#b8b8b8;border:1px solid;border-color:#eee #666 #666 #eee');
    if(k==0)svg(x+178,y+63,`<rect x="1" y="1" width="14" height="14" fill="#000"/><text x="8" y="10" font-size="8" text-anchor="middle" fill="#00ffff" font-family="Liberation Sans">1.00</text><path d="M2,13H14" stroke="#0ff"/>`,16,16);
    if(k==1)svg(x+178,y+84,`<circle cx="7" cy="8" r="5" fill="#ddd" stroke="#000"/><circle cx="7" cy="8" r="2" fill="#fff" stroke="#000"/><circle cx="13" cy="5" r="2" fill="#d00"/>`,16,16);
    if(k==2)svg(x+178,y+105,`<rect x="2" y="4" width="12" height="12" fill="#fff" stroke="#800"/><path d="M2,5H14" stroke="#800" stroke-width="2"/><path d="M4,8H12M4,11H12M7,7V15" stroke="#004"/><path d="M12,4L16,0" stroke="#ca0" stroke-width="2"/>`,16,16);
    if(k==3)svg(x+178,y+126,`<path d="M2,8L6,4V12ZM14,8L10,4V12Z" fill="#888"/>`,16,16);
  });
});

// legend
box(1616,725,237,64,'background:#0078d7;border-radius:3px');
txt(1625,741,'Legend','color:#e8f0f8');
box(1833,733,19,19,'background:#c75050;color:#fff;text-align:center;font-size:11px','x');
box(1617,757,235,31,'background:#f0f0f0');
box(1636,758,203,16,'background:#0078d7');
[[766,'#00e000','A  Live FFT Trace','#eaf2fa'],[782,'#e00000','B  Live FFT Trace','#000']].forEach(r=>{
  box(1620,r[0]-6,11,12,'background:#fff;border:1px solid #333');
  svg(1625.5,r[0],`<path d="M1,5L4,9L9,1" fill="none" stroke="#000" stroke-width="2"/>`,10,10);
  box(1636,r[0]-7,15,14,'background:#000');
  svg(1643.5,r[0],`<path d="M1,13H14M7.5,13V1M3,13V9M12,13V10" stroke="${r[1]}"/>`,15,14);
  txt(1657,r[0],r[2],`color:${r[3]}`);
  svg(1847,r[0],`<rect x="1" y="1" width="7" height="9" fill="#fff" stroke="#003"/><rect x="4" y="4" width="7" height="9" fill="#fff" stroke="#003"/>`,12,14);
});

// minimised windows
function mini(x,y,w,h,t,opt){opt=opt||{};
  box(x,y,w,h,`background:${opt.bg||'linear-gradient(#c2d0df,#dde8f3)'};border:1px solid #555;border-radius:5px 5px 0 0;`);
  svg(x+13,y+h/2,triangle,16,16);
  txt(x+24,y+h/2,t,`color:${opt.c||'#a6acb3'}`);
  ctl(x+w-110,y+6,31,17,'❐','font-weight:normal');ctl(x+w-76,y+6,31,17,'▫');ctl(x+w-41,y+6,31,17,'X',opt.xcss||'');
}
mini(996,965,160,28,'Sig...');
mini(1161,966,159,27,'Ou...');
mini(1330,970,160,27,'Ou...');
mini(1500,973,159,27,'Co...',{bg:'#a8bda8',c:'#eee'});
mini(4,1039,158,28,'FFT...',{bg:'#bba6a6',c:'#eee'});
mini(164,1039,158,28,'Sig...');
mini(324,1039,159,28,'An...');
mini(484,1039,158,28,'FFT...',{bg:'linear-gradient(#9dbad8,#c9dcee)',c:'#111',xcss:'background:linear-gradient(#d0685c,#a8321f);color:#fff;'});

// status bar
box(0,1067,1922,19,'background:#f0f0f0');
box(0,1086,1922,3,'background:#3aa0e8');
txt(3,1080,'For Help, press F1');
const st=(x,w,css,t)=>box(x,1070,w,15,'text-align:center;font-size:12px;'+(css||''),t);
st(1317,15,'background:#fff;border:1px solid #888');st(1337,15,'background:#fff;border:1px solid #888');
svg(1324.5,1077,`<path d="M2,7A5,5 0 0 1 12,7Z" fill="#fff" stroke="#000"/><path d="M2,10H12M9,8L12,10L9,12" stroke="#000" fill="none"/>`,14,13);
svg(1344.5,1077,`<rect x="2" y="1" width="10" height="6" fill="#000"/><path d="M2,10H12M9,8L12,10L9,12" stroke="#000" fill="none"/>`,14,13);
st(1355,39,'border:1px solid #bbb;color:#999;font-size:10px','S/card');
st(1398,14,'border:1px solid #bbb;font-weight:bold','➡');
st(1415,54,'border:1px solid #bbb','Bal/unbal');
st(1472,49,'background:#ff0000;color:#200','BNC');
st(1524,33,'background:#ff0000;color:#200;font-size:7px;font-weight:bold;line-height:7px;white-space:normal;padding-top:1px','48k 16');
st(1561,15,'background:#ff0000;color:#200;font-size:11px','CS');
st(1579,55,'background:#ff0000');
st(1601,9,'background:#fff','2');
st(1637,54,'border:1px solid #bbb');
[[1697,42,'Page 1'],[1739,45,'Page 2'],[1785,43,'Page 3'],[1829,42,'Page 4'],[1872,43,'Page 5']].forEach((p,i)=>box(p[0],1069,p[1],16,`text-align:center;border:1px solid #000;border-bottom:2px solid #000;border-radius:3px 3px 0 0;background:#f0f0f0;font-weight:${i<4?'bold':'normal'};font-size:12px`,p[2]));
</script>
</body></html>
